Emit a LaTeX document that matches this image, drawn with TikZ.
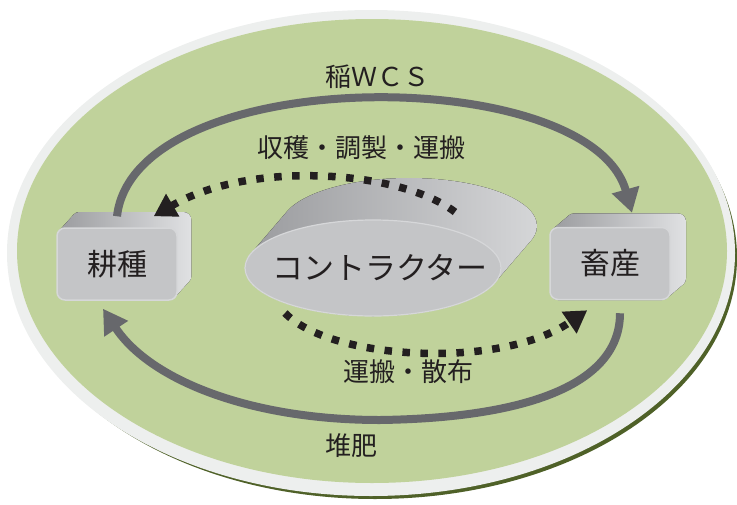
\documentclass[tikz,border=0pt]{standalone}
\usepackage{fontspec}
\newfontfamily\jp{Noto Sans CJK JP}
\usetikzlibrary{arrows.meta,shapes.geometric}
\definecolor{ring}{HTML}{EDEFEE}
\definecolor{leaf}{HTML}{C0D29B}
\definecolor{olive}{HTML}{4F6128}
\definecolor{flow}{HTML}{67686C}
\definecolor{ink}{HTML}{231F20}
\definecolor{boxfront}{HTML}{C4C5C7}
\definecolor{boxedge}{HTML}{D6D7D9}
\definecolor{sidedark}{HTML}{9A9B9E}
\definecolor{sidelight}{HTML}{E0E1E3}
\tikzset{
  boxnode/.style={rectangle, rounded corners=8pt, fill=boxfront, draw=boxedge, line width=1.5pt,
    minimum width=120pt, minimum height=72pt, inner sep=0pt, font=\jp\fontsize{30}{36}\selectfont, text=ink},
  disc/.style={ellipse, fill=boxfront, draw=boxedge, line width=1.2pt,
    minimum width=256pt, minimum height=96pt, inner sep=0pt, font=\jp\fontsize{31}{36}\selectfont, text=ink},
  lbl/.style={font=\jp\fontsize{26}{30}\selectfont, text=ink, inner sep=0pt},
  flowline/.style={draw=flow, line width=8pt, -{Triangle[length=24pt,width=27pt]}},
  dotline/.style={draw=ink, line width=7.5pt, dash pattern=on 7.5pt off 10.5pt, -{Triangle[length=22pt,width=25pt]}}
}
\begin{document}
\begin{tikzpicture}[x=1pt,y=-1pt]
\useasboundingbox (0,0) rectangle (737,504);
% background ellipse
\fill[olive] (375,257.5) ellipse [x radius=362, y radius=241.5];
\fill[ring] (371,253) ellipse [x radius=364, y radius=243];
\fill[leaf] (372,251) ellipse [x radius=355, y radius=232];
% box extrusions
\fill[rounded corners=8pt, left color=sidedark, right color=sidelight]
  foreach \i in {0,...,16} {(57+0.9*\i,228-\i) rectangle ++(120,72)};
\fill[rounded corners=8pt, left color=sidedark, right color=sidelight]
  foreach \i in {0,...,16} {(550+\i,227-0.85*\i) rectangle ++(120,73)};
% contractor extrusion
\fill[left color=sidedark, middle color=sidedark!92!black, right color=sidelight!95!black]
  foreach \i in {0,...,30} {(373+1.2*\i,268-1.4*\i) ellipse [x radius=128, y radius=48]};
% nodes
\node[boxnode] (kosaku) at (117,264) {耕種};
\node[boxnode] (chikusan) at (610,263.5) {畜産};
\node[disc] (contractor) at (373,268) {\makebox[0pt]{\hspace{14pt}コントラクター}};
% labels
\node[lbl] (wcs) at (377,77) {稲ＷＣＳ};
\node[lbl] (harvest) at (361,148) {収穫・調製・運搬};
\node[lbl] (spread) at (408,372) {運搬・散布};
\node[lbl] (compost) at (351,446) {堆肥};
% connector ends
\coordinate (cu) at (455,212);
\coordinate (cl) at (285,313);
% gray arrows
\draw[flowline] ([yshift=11pt]kosaku.north) .. controls (135,62) and (590,62) .. ([xshift=22pt,yshift=14pt]chikusan.north);
\draw[flowline] ([xshift=10pt,yshift=-13pt]chikusan.south) .. controls (620,385) and (525,418) .. (380,420)
  .. controls (250,420) and (150,380) .. ([xshift=-14pt,yshift=-8pt]kosaku.south);
% dotted arrows
\draw[dotline] (cu) .. controls (400,170) and (250,160) .. ([xshift=-24pt,yshift=11pt]kosaku.north east);
\draw[dotline] (cl) .. controls (330,360) and (500,370) .. ([xshift=38pt,yshift=-10pt]chikusan.south west);
\end{tikzpicture}
\end{document}
